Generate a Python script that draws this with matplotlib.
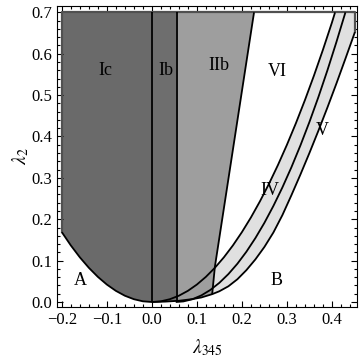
import numpy as np
import matplotlib
matplotlib.use("Agg")
import matplotlib.pyplot as plt
from matplotlib.ticker import MultipleLocator, FuncFormatter

plt.rcParams['font.family'] = ['Liberation Serif', 'DejaVu Serif']
plt.rcParams['mathtext.fontset'] = 'stix'

# boundary of A (left) continuing as the VI / IV border
para_x = [-0.20, -0.18, -0.16, -0.14, -0.12, -0.10, -0.08, -0.06, -0.04, -0.02, 0.00,
          0.02, 0.04, 0.06, 0.08, 0.10, 0.12, 0.14, 0.16, 0.18, 0.20, 0.22, 0.24,
          0.26, 0.28, 0.30, 0.32, 0.34, 0.36, 0.38, 0.40, 0.407]
para_y = [0.1688, 0.1367, 0.1080, 0.0827, 0.0608, 0.0422, 0.0270, 0.0152, 0.0068, 0.0017, 0.0,
          0.0017, 0.0068, 0.0152, 0.0270, 0.0422, 0.0608, 0.0827, 0.1080, 0.1367, 0.1688, 0.2042, 0.2431,
          0.2853, 0.3308, 0.3798, 0.4321, 0.4878, 0.5469, 0.6094, 0.6752, 0.700]

# IV / V border
mid_x = [0.053, 0.07, 0.09, 0.11, 0.13, 0.15, 0.17, 0.19, 0.21, 0.23, 0.25, 0.27,
         0.29, 0.31, 0.33, 0.35, 0.37, 0.39, 0.41, 0.43]
mid_y = [0.0, 0.0014, 0.0067, 0.0160, 0.0292, 0.0464, 0.0675, 0.0925, 0.1215, 0.1545, 0.1913, 0.2322,
         0.2769, 0.3256, 0.3783, 0.4349, 0.4954, 0.5599, 0.6283, 0.700]

# lower border (B)
low_x = [0.0, 0.03, 0.06, 0.09, 0.11, 0.134, 0.15, 0.17, 0.19, 0.21, 0.23, 0.25, 0.27,
         0.29, 0.31, 0.33, 0.35, 0.37, 0.39, 0.41, 0.43, 0.451]
low_y = [0.0, 0.001, 0.003, 0.007, 0.011, 0.019, 0.026, 0.038, 0.055, 0.077, 0.103, 0.133, 0.168,
         0.210, 0.258, 0.308, 0.360, 0.414, 0.470, 0.528, 0.588, 0.652]

# IIb / VI border
cut_x = [0.134, 0.140, 0.227]
cut_y = [0.019, 0.085, 0.700]

ib_x = 0.055
top_y = 0.70
left_x = -0.20
right_x = 0.451

labels = ['Ic', 'Ib', 'IIb', 'VI', 'V', 'IV', 'A', 'B']
label_x = [-0.104, 0.031, 0.149, 0.278, 0.378, 0.262, -0.16, 0.276]
label_y = [0.56, 0.56, 0.572, 0.556, 0.415, 0.27, 0.053, 0.053]

px, py = np.array(para_x), np.array(para_y)
mx, my = np.array(mid_x), np.array(mid_y)
lx, ly = np.array(low_x), np.array(low_y)
y_ib = np.interp(ib_x, lx, ly)

fig = plt.figure(figsize=(3.6, 3.62), dpi=100)
ax = fig.add_axes([0.158, 0.152, 0.834, 0.831])

dark = '#6a6a6a'
mid_grey = '#9e9e9e'
light = '#e0e0e0'

# Ic
m = px <= 0
ax.fill(np.r_[left_x, px[m], 0.0], np.r_[top_y, py[m], top_y], color=dark, lw=0)
# Ib
m = lx <= ib_x
ax.fill(np.r_[0.0, lx[m], ib_x, ib_x], np.r_[top_y, ly[m], y_ib, top_y], color='#6e6e6e', lw=0)
# IIb
m = (lx > ib_x) & (lx < cut_x[0])
ax.fill(np.r_[ib_x, ib_x, lx[m], cut_x], np.r_[top_y, y_ib, ly[m], cut_y], color=mid_grey, lw=0)
# IV + V band
m = px >= cut_x[1]
lm = lx >= cut_x[0]
bx = np.r_[px[m], px[-1], right_x, lx[lm][::-1], cut_x[0]]
by = np.r_[py[m], top_y, top_y, ly[lm][::-1], cut_y[0]]
ax.fill(bx, by, color=light, lw=0)

# outer outline
ax.plot([left_x, left_x, right_x, right_x], [py[0], top_y, top_y, ly[-1]], color='#505050', lw=1.6)

# borders
kw = dict(color='black', lw=1.3, solid_capstyle='butt')
ax.plot(px, py, **kw)
ax.plot(mx, my, **kw)
ax.plot(lx, ly, **kw)
ax.plot(cut_x, cut_y, **kw)
ax.plot([0.0, 0.0], [0.0, top_y], **kw)
ax.plot([ib_x, ib_x], [y_ib, top_y], **kw)

for t, x, y in zip(labels, label_x, label_y):
    ax.text(x, y, t, fontsize=13, ha='center', va='center')

fmt = FuncFormatter(lambda v, pos: ('%.1f' % v).replace('-', '\u2212'))
ax.set_xlim(-0.211, 0.456)
ax.set_ylim(-0.012, 0.715)
ax.xaxis.set_major_locator(MultipleLocator(0.1))
ax.xaxis.set_minor_locator(MultipleLocator(0.02))
ax.yaxis.set_major_locator(MultipleLocator(0.1))
ax.yaxis.set_minor_locator(MultipleLocator(0.02))
ax.xaxis.set_major_formatter(fmt)
ax.yaxis.set_major_formatter(fmt)
ax.tick_params(which='both', direction='in', top=True, right=True, width=0.8, labelsize=12)
ax.tick_params(which='major', length=4)
ax.tick_params(which='minor', length=2)
for s in ax.spines.values():
    s.set_linewidth(0.8)

ax.set_xlabel(r'$\lambda_{345}$', fontsize=14, labelpad=7)
ax.set_ylabel(r'$\lambda_2$', fontsize=14, labelpad=0)

fig.savefig('out.png', dpi=100)
